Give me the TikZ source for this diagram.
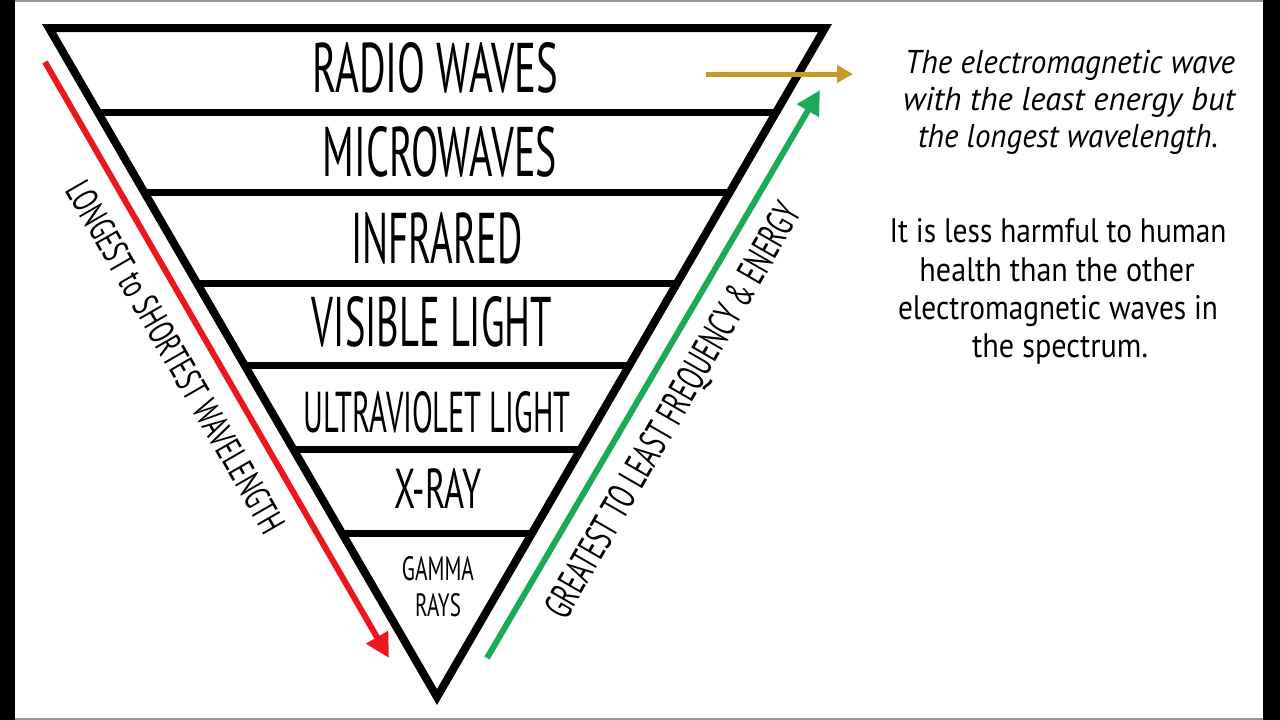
\documentclass[tikz,border=0pt]{standalone}
\usepackage{fontspec}
\setmainfont{PT Sans}
\usetikzlibrary{arrows.meta,calc}
\newcommand{\fitbox}[3]{\resizebox{#1pt}{#2pt}{#3}}
\newcommand{\fitw}[2]{\resizebox{#1pt}{\height}{#2}}
\definecolor{arrred}{RGB}{238,22,30}
\definecolor{arrgreen}{RGB}{28,170,88}
\definecolor{arrgold}{RGB}{198,154,40}
\definecolor{edgegray}{RGB}{150,150,150}
\begin{document}
\begin{tikzpicture}[x=1pt,y=-1pt,
  tri/.style={line width=8pt,line join=miter,draw=black},
  divider/.style={line width=7pt,draw=black},
  band/.style={inner sep=0pt,anchor=center,text=black},
  side/.style={inner sep=0pt,anchor=center,text=black},
  para/.style={inner sep=0pt,anchor=base,text=black},
  redarrow/.style={line width=6pt,draw=arrred,-{Triangle[length=24pt,width=24pt]}},
  greenarrow/.style={line width=6pt,draw=arrgreen,-{Triangle[length=24pt,width=24pt]}},
  goldarrow/.style={line width=5pt,draw=arrgold,-{Triangle[length=16pt,width=17pt]}}]
% frame
\useasboundingbox (0,0) rectangle (1280,720);
\fill[white] (0,0) rectangle (1280,720);
\fill[black] (0,0) rectangle (15,720);
\fill[black] (1263,0) rectangle (1280,720);
\fill[edgegray] (15,0) rectangle (1263,2);
\fill[edgegray] (15,718) rectangle (1263,720);
% triangle
\coordinate (TL) at (49,28);
\coordinate (TR) at (825,28);
\coordinate (A) at (437,697);
\draw[tri] (TL) -- (TR) -- (A) -- cycle;
\foreach \yy/\nm in {113/d1,193/d2,283/d3,366/d4,450/d5,533/d6}{
  \coordinate (\nm l) at ($(TL)!{(\yy-28)/669}!(A)$);
  \coordinate (\nm r) at ($(TR)!{(\yy-28)/669}!(A)$);
  \draw[divider] (\nm l) -- (\nm r);
}
% band labels
\node[band] (radio) at (435,68) {\fitbox{246}{50}{RADIO WAVES}};
\node[band] (micro) at (440,152) {\fitbox{234}{50}{MICROWAVES}};
\node[band] (infra) at (437,238) {\fitbox{171}{51}{INFRARED}};
\node[band] (visible) at (432,322) {\fitbox{240}{50}{VISIBLE LIGHT}};
\node[band] (uv) at (437,412) {\fitbox{267}{41}{ULTRAVIOLET LIGHT}};
\node[band] (xray) at (438,488) {\fitbox{87}{40}{X-RAY}};
\node[band] (gamma) at (438,569) {\fitbox{72}{24}{GAMMA}};
\node[band] (rays) at (438,605) {\fitbox{46}{23}{RAYS}};
% side labels
\node[side,rotate=-60] (longlbl) at (176,357) {\fitbox{400}{26}{LONGEST to SHORTEST WAVELENGTH}};
\node[side,rotate=60] (greatlbl) at (675,412) {\fitbox{472}{28}{GREATEST TO LEAST FREQUENCY \& ENERGY}};
% arrows
\coordinate (r0) at (45,62);
\coordinate (r1) at (389,658);
\draw[redarrow] (r0) -- (r1);
\coordinate (g0) at (487,658);
\coordinate (g1) at (820,90);
\draw[greenarrow] (g0) -- (g1);
\coordinate (y0) at (706,74);
\coordinate (y1) at (853,74);
\draw[goldarrow] (y0) -- (y1);
% paragraph 1 (italic)
\node[para] (p1a) at (1070,73) {\fontsize{33}{40}\selectfont\itshape\fitw{330}{The electromagnetic wave}};
\node[para] (p1b) at (1069,110) {\fontsize{33}{40}\selectfont\itshape\fitw{332}{with the least energy but}};
\node[para] (p1c) at (1068,147) {\fontsize{33}{40}\selectfont\itshape\fitw{300}{the longest wavelength.}};
% paragraph 2
\node[para] (p2a) at (1058,242) {\fontsize{34}{40}\selectfont\fitw{337}{It is less harmful to human}};
\node[para] (p2b) at (1057,281) {\fontsize{34}{40}\selectfont\fitw{275}{health than the other}};
\node[para] (p2c) at (1058,319) {\fontsize{34}{40}\selectfont\fitw{320}{electromagnetic waves in}};
\node[para] (p2d) at (1060,357) {\fontsize{34}{40}\selectfont\fitw{176}{the spectrum.}};
\end{tikzpicture}
\end{document}
